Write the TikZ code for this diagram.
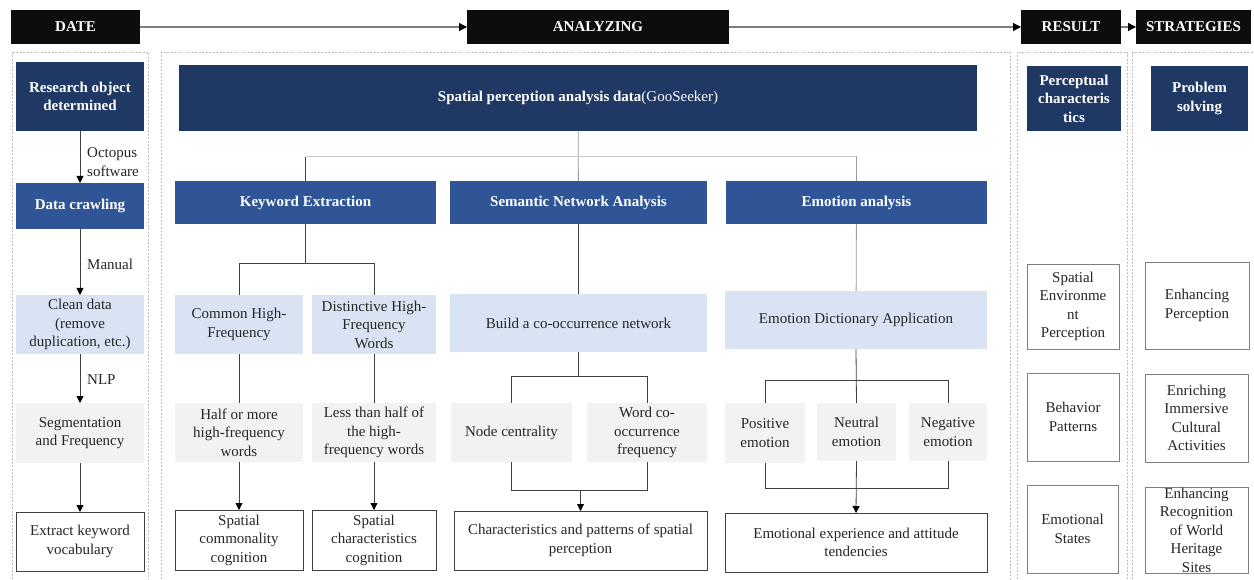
\documentclass[tikz,border=0pt]{standalone}
\usepackage{fontspec}
\setmainfont{Liberation Serif}
\newfontfamily\figfont{Liberation Serif}
\usetikzlibrary{arrows.meta}

\definecolor{navy}{HTML}{203864}
\definecolor{midblue}{HTML}{2F5597}
\definecolor{paleblue}{HTML}{DAE3F3}
\definecolor{palegray}{HTML}{F2F2F2}
\definecolor{ink}{HTML}{262626}
\definecolor{framegray}{HTML}{BFBFBF}
\definecolor{linegray}{HTML}{404040}
\definecolor{busgray}{HTML}{C8C8C8}
\definecolor{stemgray}{HTML}{9A9A9A}
\definecolor{boxedge}{HTML}{7F7F7F}

\newcommand\figtext{\figfont\fontsize{15}{18.5}\selectfont}

% box given by its corners (x1,y1)-(x2,y2), y counted downwards
\newcommand\cornerbox[7]{%
  \node[#6, minimum width={#4-#2}, minimum height={#5-#3}]
    (#1) at ({(#2+#4)/2},{(#3+#5)/2}) {#7};}

\tikzset{
  base/.style={align=center, inner sep=0pt, outer sep=0pt, font=\figtext},
  hdrbox/.style={base, fill=black!95, text=white, font=\figtext\bfseries},
  darkbox/.style={base, fill=navy, text=white, font=\figtext\bfseries},
  midbox/.style={base, fill=midblue, text=white, font=\figtext\bfseries},
  palebox/.style={base, fill=paleblue, text=ink},
  graybox/.style={base, fill=palegray, text=ink},
  plainbox/.style={base, fill=white, draw=linegray, line width=0.8pt, text=ink},
  outbox/.style={base, fill=white, draw=boxedge, line width=0.8pt, text=ink},
  conn/.style={draw=linegray, line width=0.8pt},
  arr/.style={conn, -{Triangle[length=7pt,width=7pt,color=black]}},
  hdrarr/.style={draw=boxedge, line width=1.2pt, -{Triangle[length=8pt,width=8pt,color=black]}},
  colframe/.style={draw=framegray, line width=0.6pt, dash pattern=on 2pt off 1.5pt},
  note/.style={inner sep=0pt, align=left, text=ink, anchor=west, font=\figtext},
}

\begin{document}
\begin{tikzpicture}[x=1pt, y=-1pt]
\useasboundingbox (0,0) rectangle (1254,580);
\fill[white] (0,0) rectangle (1254,580);

% column frames
\draw[colframe] (12,52) rectangle (148,600);
\draw[colframe] (161,52) rectangle (1010,600);
\draw[colframe] (1017,52) rectangle (1127,600);
\draw[colframe] (1132,52) rectangle (1262,600);

% stage headers
\cornerbox{date}{11}{10}{140}{44}{hdrbox}{DATE}
\cornerbox{ana}{467}{10}{729}{44}{hdrbox}{ANALYZING}
\cornerbox{res}{1021}{10}{1121}{44}{hdrbox}{RESULT}
\cornerbox{str}{1136}{10}{1251}{44}{hdrbox}{STRATEGIES}
\draw[hdrarr] (date) -- (ana);
\draw[hdrarr] (ana) -- (res);
\draw[hdrarr] (res) -- (str);

% data column
\cornerbox{rob}{16}{62}{144}{131}{darkbox}{Research object\\determined}
\cornerbox{crawl}{16}{183}{144}{229}{midbox}{Data crawling}
\cornerbox{clean}{16}{295}{144}{354}{palebox}{Clean data\\(remove\\duplication, etc.)}
\cornerbox{seg}{16}{403}{144}{463}{graybox}{Segmentation\\and Frequency}
\cornerbox{ext}{16}{512}{144}{571}{plainbox}{Extract keyword\\vocabulary}
\draw[arr] (rob) -- (crawl);
\draw[arr] (crawl) -- (clean);
\draw[arr] (clean) -- (seg);
\draw[arr] (seg) -- (ext);
\node[note] (lbloct) at (87,162) {Octopus\\software};
\node[note] (lblman) at (87,264) {Manual};
\node[note] (lblnlp) at (87,380) {NLP};

% analyzing column
\cornerbox{spd}{179}{65}{977}{131}{darkbox}{Spatial perception analysis data{\mdseries(GooSeeker)}}
\cornerbox{kw}{175}{181}{436}{224}{midbox}{Keyword Extraction}
\cornerbox{sna}{450}{181}{707}{224}{midbox}{Semantic Network Analysis}
\cornerbox{emo}{726}{181}{987}{224}{midbox}{Emotion analysis}
\coordinate (bus) at (0,157);
\draw[draw=stemgray, line width=0.8pt] (spd) -- (sna);
\draw[draw=busgray, line width=1pt] (kw.north |- bus) -- (emo.north |- bus);
\draw[conn] (kw.north) -- (kw.north |- bus);
\draw[draw=stemgray, line width=0.8pt] (emo.north) -- (emo.north |- bus);

% keyword extraction branch
\cornerbox{com}{175}{295}{303}{354}{palebox}{Common High-\\Frequency}
\cornerbox{dis}{312}{295}{436}{354}{palebox}{Distinctive High-\\Frequency\\Words}
\cornerbox{half}{175}{403}{303}{462}{graybox}{Half or more\\high-frequency\\words}
\cornerbox{less}{312}{403}{436}{462}{graybox}{Less than half of\\the high-\\frequency words}
\cornerbox{scc}{175}{510}{303}{570}{plainbox}{Spatial\\commonality\\cognition}
\cornerbox{sch}{312}{510}{436}{570}{plainbox}{Spatial\\characteristics\\cognition}
\coordinate (kbus) at (0,263);
\draw[conn] (kw.south) -- (kw.south |- kbus);
\draw[conn] (com.north) -- (com.north |- kbus) -| (dis.north);
\draw[conn] (com) -- (half);
\draw[conn] (dis) -- (less);
\draw[arr] (half) -- (scc);
\draw[arr] (less) -- (sch);

% semantic network branch
\cornerbox{bld}{450}{294}{707}{352}{palebox}{Build a co-occurrence network}
\cornerbox{nc}{451}{403}{572}{462}{graybox}{Node centrality}
\cornerbox{wc}{587}{403}{707}{462}{graybox}{Word co-\\occurrence\\frequency}
\cornerbox{cp}{454}{511}{707}{570}{plainbox}{Characteristics and patterns of spatial\\perception}
\coordinate (sbus) at (0,376);
\coordinate (sbot) at (0,490);
\draw[conn] (sna) -- (bld);
\draw[conn] (bld.south) -- (bld.south |- sbus);
\draw[conn] (nc.north) -- (nc.north |- sbus) -| (wc.north);
\draw[conn] (nc.south) -- (nc.south |- sbot) -| (wc.south);
\draw[arr] (cp.north |- sbot) -- (cp.north);

% emotion branch
\cornerbox{dict}{725}{291}{987}{349}{palebox}{Emotion Dictionary Application}
\cornerbox{pos}{725}{403}{805}{463}{graybox}{Positive\\emotion}
\cornerbox{neu}{817}{403}{896}{461}{graybox}{Neutral\\emotion}
\cornerbox{neg}{909}{403}{987}{461}{graybox}{Negative\\emotion}
\cornerbox{eexp}{725}{513}{987}{572}{plainbox}{Emotional experience and attitude\\tendencies}
\coordinate (ebus) at (0,380);
\coordinate (ebot) at (0,488);
\draw[draw=stemgray, line width=0.8pt] (emo) -- (dict);
\draw[conn] (dict.south) -- (neu.north);
\draw[conn] (pos.north) -- (pos.north |- ebus) -| (neg.north);
\draw[conn] (pos.south) -- (pos.south |- ebot) -| (neg.south);
\draw[arr] (neu.south) -- (eexp.north);

% result column
\cornerbox{pc}{1027}{66}{1121}{131}{darkbox}{Perceptual\\characteris\\tics}
\cornerbox{sep}{1027}{264}{1119}{349}{outbox}{Spatial\\Environme\\nt\\Perception}
\cornerbox{bp}{1027}{373}{1119}{461}{outbox}{Behavior\\Patterns}
\cornerbox{es}{1027}{485}{1118}{573}{outbox}{Emotional\\States}

% strategies column
\cornerbox{ps}{1151}{66}{1248}{131}{darkbox}{Problem\\solving}
\cornerbox{ep}{1145}{262}{1249}{349}{outbox}{Enhancing\\Perception}
\cornerbox{eica}{1145}{374}{1248}{462}{outbox}{Enriching\\Immersive\\Cultural\\Activities}
\cornerbox{erw}{1145}{487}{1248}{573}{outbox}{Enhancing\\Recognition\\of World\\Heritage\\Sites}
\end{tikzpicture}
\end{document}
